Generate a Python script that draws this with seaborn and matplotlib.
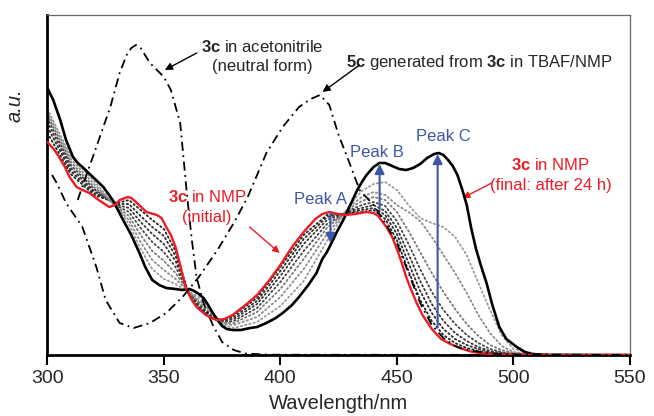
import numpy as np
import pandas as pd
import matplotlib
matplotlib.use("Agg")
import matplotlib.pyplot as plt
import seaborn as sns

# ---------------- data (arbitrary units) ----------------
wl_grid = [300, 310, 320, 330, 335, 340, 345, 350, 355, 360, 365, 370, 375, 380, 390,
           400, 410, 420, 430, 435, 440, 445, 450, 455, 460, 465, 470, 475, 480, 485,
           490, 495, 500, 510, 550]

# 3c in NMP (initial) - red
wl_initial = [300, 303, 305, 307.5, 309.5, 312.5, 315, 318, 322, 326.5, 329, 331, 334.5,
              336, 338, 342.5, 347, 349, 351, 353, 355, 357, 358.5, 360, 362, 364, 368,
              372.5, 376, 379.5, 385, 390, 395, 400, 405, 410, 415, 418, 421, 425, 428,
              432, 437, 440, 442, 445.5, 448, 450, 452, 454, 456, 458.5, 461, 465, 469,
              473, 477, 482.5, 488, 494, 500, 510, 550]
nmp_initial = [213, 205, 198, 188, 178, 168, 165, 162, 155, 148, 150, 155, 158,
               157, 153, 143, 140, 137, 128, 120, 108, 90, 75, 64, 55, 48, 40,
               35, 36, 40, 50, 60, 74, 90, 108, 123, 136, 141, 143, 141, 140,
               141, 143, 142, 139, 128, 118, 106, 93, 78, 66, 52, 40, 26, 16,
               11, 7, 3, 1.5, 0.8, 0.3, 0, 0]

# 3c in NMP (final: after 24 h) - black
wl_final = [300, 301, 302.5, 304, 305.5, 308, 311, 313, 315, 319.5, 324, 328, 332.5,
            336, 339.5, 342, 345, 348, 351, 355, 358, 361, 363, 365, 367, 369, 371,
            373, 375, 377, 379.5, 383, 387, 390, 394, 398, 401, 405, 408, 412, 415.5,
            418, 420, 421.5, 424, 427, 431, 433, 435, 437, 440, 442.5, 445, 448, 451,
            454, 457, 460, 463, 466, 468, 470, 472, 474, 476, 478, 480, 482, 484, 486,
            488.5, 491, 494, 497, 501.5, 505, 508, 515, 550]
nmp_final = [267, 262, 255, 245, 235, 215, 198, 192, 188, 178, 168, 155, 135,
             120, 102, 88, 75, 70, 67, 66, 65, 66, 64, 61, 57, 50, 42,
             35, 29, 26, 25, 25, 27, 28, 32, 37, 42, 50, 58, 70, 82,
             96, 103, 110, 122, 135, 155, 165, 173, 180, 188, 192, 192, 189, 186,
             185, 187, 191, 197, 201, 202, 200, 195, 189, 180, 166, 150, 126, 106, 90,
             72, 50, 28, 16, 8, 3, 1, 0, 0]

# intermediate spectra (dotted), from early to late
int_1 = [222, 181, 160, 152, 155, 145, 135, 126, 104, 66, 47, 37, 35, 40, 57,
         88, 120, 140, 142, 143, 145, 136, 115, 84, 55, 34, 20, 12, 7, 4, 2, 1, 0.5, 0, 0]
int_2 = [228, 184, 162, 151, 151, 139, 128, 119, 99, 66, 48, 38, 35, 38, 54,
         84, 116, 138, 143, 145, 147, 140, 121, 92, 64, 42, 26, 16, 10, 6, 3, 1.5, 1, 0, 0]
int_3 = [233, 187, 164, 150, 147, 133, 121, 111, 94, 65, 49, 39, 34, 36, 51,
         79, 111, 135, 144, 147, 150, 144, 127, 101, 74, 51, 34, 22, 14, 8, 4, 2, 1, 0, 0]
int_4 = [237, 190, 166, 149, 143, 127, 113, 103, 88, 65, 51, 40, 33, 34, 47,
         73, 104, 131, 145, 150, 153, 149, 134, 111, 86, 63, 45, 31, 20, 12, 6, 3, 1, 0, 0]
int_5 = [240, 193, 168, 148, 139, 120, 104, 94, 82, 65, 53, 42, 32, 32, 43,
         66, 96, 127, 147, 154, 158, 155, 143, 124, 103, 82, 63, 46, 31, 19, 10, 5, 2, 0, 0]
int_6 = [243, 196, 171, 147, 135, 113, 95, 85, 76, 65, 55, 44, 31, 30, 38,
         58, 86, 121, 149, 158, 163, 160, 150, 143, 134, 118, 100, 82, 62, 40, 22, 9, 3, 0.5, 0]
int_7 = [246, 199, 174, 147, 131, 106, 86, 76, 71, 64, 58, 46, 30, 27, 33,
         49, 74, 114, 151, 164, 171, 173, 165, 150, 137, 132, 128, 118, 100, 72, 45, 20, 6, 1, 0]

# 3c in acetonitrile (neutral form) - dash-dot
wl_acn = [313, 316, 321, 327, 331, 334, 336, 338, 340, 344, 350, 353, 357, 360, 362, 364,
          367, 371, 375, 380, 385, 395, 550]
acn = [155, 175, 208, 248, 282, 300, 307, 310, 307, 292, 278, 265, 232, 158, 115, 78,
       52, 30, 13, 5, 1.5, 0.3, 0]

# 5c generated from 3c in TBAF/NMP - dash-dot
wl_5c = [302, 304, 308, 315, 321, 325, 331, 337, 344, 351, 358, 365, 373, 380, 383,
         386, 394, 401, 408, 413, 417, 421, 425, 430, 434, 440, 445, 450, 455, 460,
         465, 470, 475, 480, 490, 500, 550]
tbaf_5c = [180, 172, 152, 128, 88, 55, 32, 27, 32, 42, 58, 78, 105, 132, 145,
           158, 202, 228, 248, 256, 260, 250, 220, 190, 165, 150, 132, 112, 82, 52,
           30, 17, 9, 5, 1.5, 0.5, 0]

x_ticks = [300, 350, 400, 450, 500, 550]

# ---------------- style ----------------
sns.set_theme(style="white")
plt.rcParams["font.family"] = ["Liberation Sans", "DejaVu Sans"]
plt.rcParams["mathtext.fontset"] = "custom"
plt.rcParams["mathtext.rm"] = "Liberation Sans"
plt.rcParams["mathtext.it"] = "Liberation Sans:italic"
plt.rcParams["mathtext.bf"] = "Liberation Sans:bold"

RED = "#ec1c24"
BLUE = "#3f56a6"
TXT = "#262626"

fig = plt.figure(figsize=(6.54, 4.16), dpi=100)
ax = fig.add_axes([0.0725, 0.1466, 0.8905, 0.8174])

dash_dot = (0, (5, 2.5, 1, 2.5))

# intermediates
inter = [int_1, int_2, int_3, int_4, int_5, int_6, int_7]
inter_cols = ["#222222", "#2a2a2a", "#333333", "#444444", "#777777", "#8a8a8a", "#999999"]
for ys, c in zip(inter, inter_cols):
    sns.lineplot(x=wl_grid, y=ys, ax=ax, color=c, lw=1.3, linestyle=(0, (0.8, 1.6)),
                 dash_capstyle="round", zorder=2)

sns.lineplot(x=wl_final, y=nmp_final, ax=ax, color="black", lw=1.9, zorder=4)
sns.lineplot(x=wl_initial, y=nmp_initial, ax=ax, color=RED, lw=1.7, zorder=5)
sns.lineplot(x=wl_acn, y=acn, ax=ax, color="black", lw=1.3, linestyle=dash_dot, zorder=3)
sns.lineplot(x=wl_5c, y=tbaf_5c, ax=ax, color="black", lw=1.3, linestyle=dash_dot, zorder=6)

ax.set_xlim(300, 550)
ax.set_ylim(0, 340)
ax.set_xticks(x_ticks)
ax.set_xticklabels([str(t) for t in x_ticks], fontsize=14, color=TXT)
ax.set_yticks([])
ax.tick_params(axis="x", direction="out", length=7, width=1.5, color="black", pad=4,
               bottom=True)
ax.set_xlabel("Wavelength/nm", fontsize=14.5, color=TXT, labelpad=5)
ax.set_ylabel("a.u.", fontsize=14.5, style="italic", color=TXT)
ax.yaxis.set_label_coords(-0.04, 0.735)

for s in ["left", "bottom"]:
    ax.spines[s].set_linewidth(2.0)
    ax.spines[s].set_color("black")
for s in ["top", "right"]:
    ax.spines[s].set_linewidth(0.9)
    ax.spines[s].set_color("#666666")

# ---------------- annotations ----------------
fs = 12
ax.text(392.3, 308, r"$\mathbf{3c}$ in acetonitrile", fontsize=fs, ha="center", va="center", color=TXT)
ax.text(392.3, 288, "(neutral form)", fontsize=fs, ha="center", va="center", color=TXT)
ax.annotate("", xy=(350.4, 285), xytext=(364.1, 302),
            arrowprops=dict(arrowstyle="-|>", color="black", lw=1.0, mutation_scale=11,
                            shrinkA=0, shrinkB=0))

ax.text(485.5, 292, r"$\mathbf{5c}$ generated from $\mathbf{3c}$ in TBAF/NMP", fontsize=fs,
        ha="center", va="center", color=TXT)
ax.annotate("", xy=(418.1, 263), xytext=(434, 290),
            arrowprops=dict(arrowstyle="-|>", color="black", lw=1.0, mutation_scale=11,
                            shrinkA=0, shrinkB=0))

ax.text(368.6, 158, r"$\mathbf{3c}$ in NMP", fontsize=fs, ha="center", va="center", color=RED)
ax.text(368.6, 137, "(initial)", fontsize=fs, ha="center", va="center", color=RED)
ax.annotate("", xy=(399.7, 102), xytext=(386.8, 128),
            arrowprops=dict(arrowstyle="-|>", color=RED, lw=1.0, mutation_scale=10,
                            shrinkA=0, shrinkB=0))

ax.text(516, 190, r"$\mathbf{3c}$ in NMP", fontsize=fs, ha="center", va="center", color=RED)
ax.text(516, 169, "(final: after 24 h)", fontsize=fs, ha="center", va="center", color=RED)
ax.annotate("", xy=(478.3, 157), xytext=(490.7, 172),
            arrowprops=dict(arrowstyle="-|>", color=RED, lw=1.0, mutation_scale=10,
                            shrinkA=0, shrinkB=0))

ax.text(417.4, 155, "Peak A", fontsize=fs, ha="center", va="center", color=BLUE)
ax.text(441.3, 202, "Peak B", fontsize=fs, ha="center", va="center", color=BLUE)
ax.text(470.0, 218, "Peak C", fontsize=fs, ha="center", va="center", color=BLUE)

arrow_kw = dict(arrowstyle="-|>", color=BLUE, lw=1.5, mutation_scale=14, shrinkA=0, shrinkB=0)
ax.annotate("", xy=(421.5, 112), xytext=(421.5, 142), arrowprops=arrow_kw, zorder=7)
ax.annotate("", xy=(442.6, 191), xytext=(442.6, 145), arrowprops=arrow_kw, zorder=7)
ax.annotate("", xy=(467.5, 201), xytext=(467.5, 28), arrowprops=arrow_kw, zorder=7)

fig.savefig("out.png", dpi=100)
